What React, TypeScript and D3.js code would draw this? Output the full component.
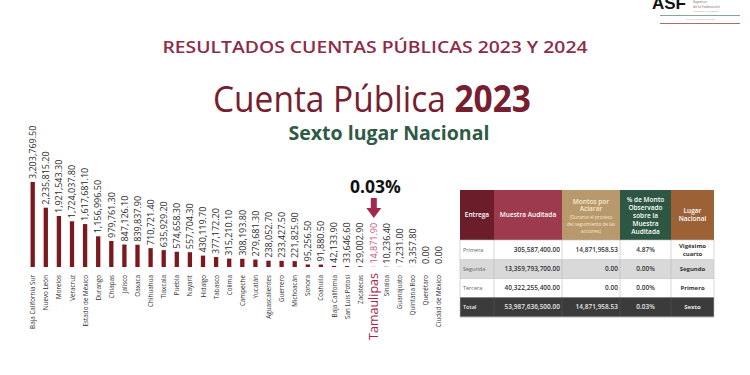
import React from "react";
import * as d3 from "d3";

const states = [
  "Baja California Sur", "Nuevo León", "Morelos", "Veracruz", "Estado de México", "Durango",
  "Chiapas", "Jalisco", "Oaxaca", "Chihuahua", "Tlaxcala", "Puebla", "Nayarit", "Hidalgo",
  "Tabasco", "Colima", "Campeche", "Yucatán", "Aguascalientes", "Guerrero", "Michoacán",
  "Sonora", "Coahuila", "Baja California", "San Luis Potosí", "Zacatecas", "Tamaulipas",
  "Sinaloa", "Guanajuato", "Quintana Roo", "Querétaro", "Ciudad de México",
];
const values = [
  3203769.5, 2235815.2, 1921543.3, 1724037.8, 1617681.1, 1156996.5, 979761.3, 847126.1,
  839837.9, 710721.4, 635929.2, 574658.3, 557704.3, 430119.7, 377172.2, 315210.1, 308193.8,
  279681.3, 238052.7, 233427.5, 221825.9, 95256.5, 91880.5, 42133.9, 33646.6, 29002.9,
  14871.9, 10236.4, 7231.0, 3357.8, 0, 0,
];
const highlight = "Tamaulipas";
const highlightPct = "0.03%";

const tableEntrega = ["Primera", "Segunda", "Tercera", "Total"];
const tableMuestra = ["305,587,400.00", "13,359,793,700.00", "40,322,255,400.00", "53,987,636,500.00"];
const tableMontos = ["14,871,958.53", "0.00", "0.00", "14,871,958.53"];
const tablePct = ["4.87%", "0.00%", "0.00%", "0.03%"];
const tableLugar = [["Vigésimo", "cuarto"], ["Segundo"], ["Primero"], ["Sexto"]];

const fmt = d3.format(",.2f");
const FONT = "'Open Sans', sans-serif";

export default function App() {
  const x = d3.scalePoint<string>().domain(states).range([32.7, 438.8]);
  const y = d3.scaleLinear().domain([0, d3.max(values) as number]).range([267, 182]);
  const barW = 4.3;

  const red = "#7a1a1e";
  const hi = "#a3284b";

  // table geometry
  const colX = [460, 494, 562, 620, 671, 714];
  const headTop = 190, headBot = 240;
  const rowY = [240, 259.5, 279, 297.5, 317];
  const headColors = ["#6b1d2a", "#9e3a4e", "#b8996b", "#2d5643", "#9c6236"];
  const rowBg = ["#ffffff", "#d9d9d9", "#ffffff", "#3b3b3b"];

  const cx = (i: number) => (colX[i] + colX[i + 1]) / 2;

  return (
    <svg width={750} height={375} style={{ position: "absolute", left: 0, top: 0, background: "#fff" }} fontFamily={FONT}>
      <rect width={750} height={375} fill="#fff" />
      {/* ASF logo */}
      <g>
        <text x={652} y={9} fontFamily="'Liberation Sans', Arial, sans-serif" fontWeight={700} fontSize={17} fill="#111">ASF</text>
        <text x={693} y={3} fontSize={3.5} fill="#666">Superior</text>
        <text x={693} y={8} fontSize={3.5} fill="#666">de la Federación</text>
        <text x={693} y={12} fontSize={2.5} fill="#999">AUDITORÍA SUPERIOR</text>
        <line x1={660} x2={740} y1={15.5} y2={15.5} stroke="#8aa596" strokeWidth={1} />
        <text x={700} y={20} fontSize={2.5} fill="#999" textAnchor="middle">CÁMARA DE DIPUTADOS</text>
        <line x1={660} x2={740} y1={23.5} y2={23.5} stroke="#b46a6a" strokeWidth={1} />
      </g>

      {/* titles */}
      <text x={375} y={53} textAnchor="middle" fontSize={17} fontWeight={600} fill="#8e2c48"
        textLength={425} lengthAdjust="spacingAndGlyphs">RESULTADOS CUENTAS PÚBLICAS 2023 Y 2024</text>
      <text x={372} y={112} textAnchor="middle" fontSize={37} fill="#76202f" textLength={318} lengthAdjust="spacingAndGlyphs">
        <tspan fontWeight={400}>Cuenta Pública </tspan>
        <tspan fontWeight={700}>2023</tspan>
      </text>
      <text x={389} y={140} textAnchor="middle" fontSize={19.5} fontWeight={700} fill="#2e5a47">Sexto lugar Nacional</text>

      {/* bars */}
      {states.map((s, i) => {
        const v = values[i];
        const bx = x(s) as number;
        const isHi = s === highlight;
        return (
          <g key={s}>
            <rect x={bx - barW / 2} y={y(v)} width={barW} height={Math.max(0, y(0) - y(v))} fill={isHi ? "#d8a0b0" : red} />
            <text transform={`translate(${bx + 3.2},${y(v) - 3}) rotate(-90)`} fontSize={9} fontWeight={500} fill={isHi ? "#c9587a" : "#2a2a2a"}>
              {fmt(v)}
            </text>
            <text
              transform={`translate(${bx + (isHi ? 4.5 : 2.5)},${isHi ? 273 : 275}) rotate(-90)`}
              textAnchor="end"
              fontSize={isHi ? 12.5 : 6.3}
              fontWeight={isHi ? 500 : 400}
              fill={isHi ? hi : "#333"}
            >
              {s}
            </text>
          </g>
        );
      })}

      {/* highlight annotation */}
      {(() => {
        const hx = x(highlight) as number;
        return (
          <g>
            <text x={hx + 2} y={193} textAnchor="middle" fontSize={17.5} fontWeight={700} fill="#111">{highlightPct}</text>
            <rect x={hx - 2.5} y={198} width={6} height={11} fill={hi} />
            <path d={`M${hx - 7},${208} L${hx + 8},${208} L${hx + 0.5},${218} Z`} fill={hi} />
          </g>
        );
      })()}

      {/* table header */}
      {headColors.map((c, i) => (
        <rect key={i} x={colX[i]} y={headTop} width={colX[i + 1] - colX[i]} height={headBot - headTop} fill={c} />
      ))}
      <g fill="#fff" fontSize={6.5} fontWeight={600} textAnchor="middle">
        <text x={cx(0)} y={217}>Entrega</text>
        <text x={cx(1)} y={217}>Muestra Auditada</text>
        <text x={cx(2)} y={204} fill="#f4ead6">Montos por</text>
        <text x={cx(2)} y={211} fill="#f4ead6">Aclarar</text>
        <text x={cx(2)} y={219} fontSize={4.6} fontWeight={400} fill="#f4ead6">(Durante el proceso</text>
        <text x={cx(2)} y={226} fontSize={4.6} fontWeight={400} fill="#f4ead6">del seguimiento de las</text>
        <text x={cx(2)} y={233} fontSize={4.6} fontWeight={400} fill="#f4ead6">acciones)</text>
        {["% de Monto", "Observado", "sobre la", "Muestra", "Auditada"].map((t, k) => (
          <text key={t} x={cx(3)} y={202 + k * 8.1}>{t}</text>
        ))}
        <text x={cx(4)} y={213}>Lugar</text>
        <text x={cx(4)} y={221}>Nacional</text>
      </g>

      {/* table rows */}
      {tableEntrega.map((e, r) => {
        const top = rowY[r], bot = rowY[r + 1];
        const mid = (top + bot) / 2 + 2.2;
        const dark = r === 3;
        const tc = dark ? "#e6e6e6" : "#333";
        return (
          <g key={e}>
            <rect x={colX[0]} y={top} width={colX[5] - colX[0]} height={bot - top} fill={rowBg[r]} />
            {colX.slice(1, 5).map((cxv) => (
              <line key={cxv} x1={cxv} x2={cxv} y1={top} y2={bot} stroke={dark ? "#555" : "#bbb"} strokeWidth={0.6} />
            ))}
            <line x1={colX[0]} x2={colX[5]} y1={bot} y2={bot} stroke="#bbb" strokeWidth={0.6} />
            <text x={colX[0] + 3} y={mid} fontSize={5.5} fill={dark ? "#eee" : "#666"} fontWeight={dark ? 600 : 400}>{e}</text>
            <text x={colX[2] - 2} y={mid} fontSize={6.5} fontWeight={600} fill={tc} textAnchor="end">{tableMuestra[r]}</text>
            <text x={colX[3] - 2} y={mid} fontSize={6.5} fontWeight={600} fill={tc} textAnchor="end">{tableMontos[r]}</text>
            <text x={cx(3)} y={mid} fontSize={6.5} fontWeight={600} fill={tc} textAnchor="middle">{tablePct[r]}</text>
            {tableLugar[r].map((l, k) => (
              <text key={l} x={cx(4)} y={tableLugar[r].length > 1 ? top + 7.5 + k * 8 : mid} fontSize={6} fontWeight={700}
                fill={tc} textAnchor="middle">{l}</text>
            ))}
          </g>
        );
      })}
      <rect x={colX[0]} y={rowY[0]} width={colX[5] - colX[0]} height={rowY[4] - rowY[0]} fill="none" stroke="#bbb" strokeWidth={0.6} />
    </svg>
  );
}
